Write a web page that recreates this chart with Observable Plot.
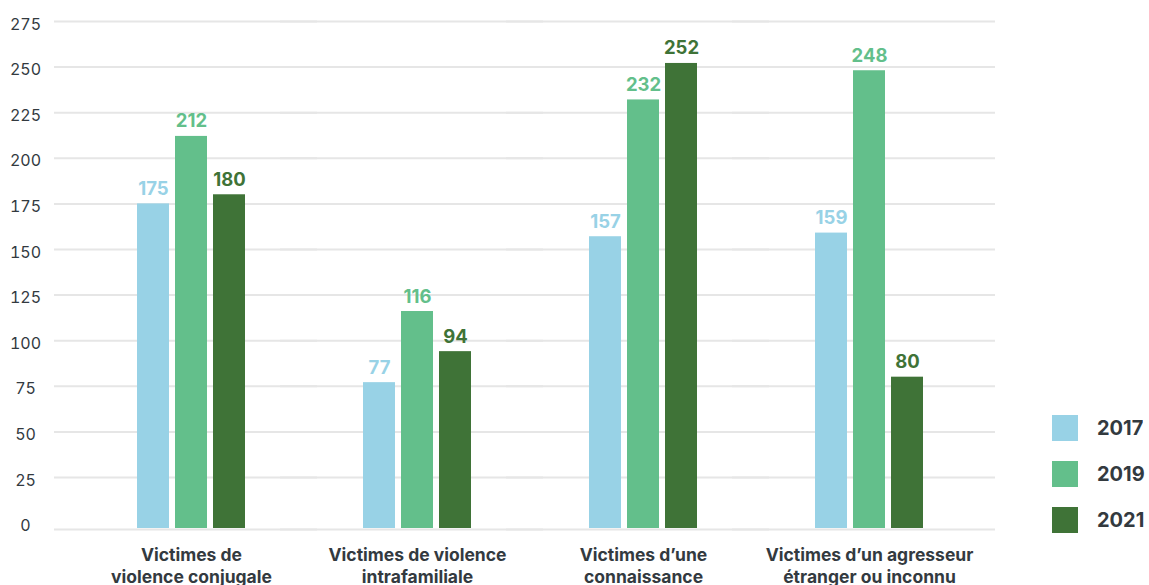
<!DOCTYPE html>
<html><head><meta charset="utf-8">
<script src="https://cdn.jsdelivr.net/npm/d3@7"></script>
<script src="https://cdn.jsdelivr.net/npm/@observablehq/plot@0.6"></script>
<style>
body{margin:0;background:#fff;font-family:Inter,sans-serif;}
#wrap{position:relative;width:1149px;height:585px;overflow:hidden;}
#legend{position:absolute;left:1052px;top:415px;}
#legend [class$="-swatch"]{margin-bottom:19px;}
#legend [class$="-swatch"] svg{margin-right:19px !important;}
</style></head><body><div id="wrap"><div id="chart"></div><div id="legend"></div></div>
<script>
const categories = ["Victimes de\nviolence conjugale", "Victimes de violence\nintrafamiliale", "Victimes d’une\nconnaissance", "Victimes d’un agresseur\nétranger ou inconnu"];
const years = ["2017", "2019", "2021"];
const v2017 = [175, 77, 157, 159];
const v2019 = [212, 116, 232, 248];
const v2021 = [180, 94, 252, 80];
const colors = ["#98d2e6", "#63bf8b", "#3f7337"];
const yTicks = [0, 25, 50, 75, 100, 125, 150, 175, 200, 225, 250, 275];

const series = [v2017, v2019, v2021];
const data = categories.flatMap((c, i) => years.map((y, j) => ({category: c, year: y, value: series[j][i]})));

const plot = Plot.plot({
  width: 1149, height: 600,
  marginTop: 21, marginBottom: 77.4, marginLeft: 54, marginRight: 143,
  style: {fontFamily: "Inter, sans-serif", background: "#fff"},
  fx: {domain: categories, paddingInner: 0.522, paddingOuter: 0.367, label: null},
  x: {domain: years, paddingInner: 0.158, paddingOuter: 0, axis: null},
  y: {domain: [0, 275], label: null},
  color: {domain: years, range: colors},
  marks: [
    Plot.ruleY(yTicks.filter(t => t > 0), {stroke: "#e6e6e6", strokeWidth: 2, insetLeft: -83, insetRight: -72}),
    Plot.ruleY([0], {stroke: "#e6e6e6", strokeWidth: 2, dy: 6.4, insetLeft: -83, insetRight: -72}),
    Plot.axisY({ticks: yTicks, tickSize: 0, textAnchor: "middle", dx: -103, dy: 3, fontSize: 16, fill: "#333a3f", label: null}),
    Plot.axisFx({anchor: "bottom", tickSize: 0, tickPadding: 22, fontSize: 17.5, fontWeight: "bold", fill: "#333a3f", lineHeight: 1.26, label: null}),
    Plot.barY(data, {fx: "category", x: "year", y: "value", fill: "year", insetBottom: -5.4}),
    Plot.text(data, {fx: "category", x: "year", y: "value", text: d => String(d.value), fill: "year", lineAnchor: "bottom", dy: -9, fontSize: 18.5, fontWeight: "bold"})
  ]
});
document.getElementById("chart").appendChild(plot);
const leg = Plot.legend({color: {domain: years, range: colors}, legend: "swatches", columns: 1, swatchSize: 26,
  style: {fontSize: "20px", fontWeight: "bold", color: "#333a3f", fontFamily: "Inter, sans-serif"}});
document.getElementById("legend").appendChild(leg);
</script></body></html>
